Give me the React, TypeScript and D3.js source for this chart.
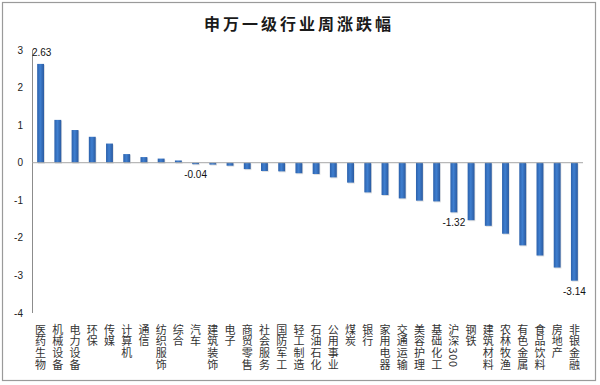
import React from 'react';
import * as d3 from 'd3';

// 申万一级行业周涨跌幅 (%)
const categories = [
  '医药生物', '机械设备', '电力设备', '环保', '传媒', '计算机', '通信', '纺织服饰',
  '综合', '汽车', '建筑装饰', '电子', '商贸零售', '社会服务', '国防军工', '轻工制造',
  '石油石化', '公用事业', '煤炭', '银行', '家用电器', '交通运输', '美容护理', '基础化工',
  '沪深300', '钢铁', '建筑材料', '农林牧渔', '有色金属', '食品饮料', '房地产', '非银金融',
];
const values = [
  2.63, 1.14, 0.87, 0.69, 0.51, 0.23, 0.15, 0.11,
  0.06, -0.04, -0.05, -0.08, -0.17, -0.22, -0.23, -0.28,
  -0.3, -0.39, -0.53, -0.79, -0.86, -0.95, -1.01, -1.03,
  -1.32, -1.53, -1.68, -1.89, -2.2, -2.47, -2.79, -3.14,
];
const labelled = ['医药生物', '汽车', '沪深300', '非银金融'];
const yTicks = [3, 2, 1, 0, -1, -2, -3, -4];

const W = 600;
const H = 385;
const cjk = '"Noto Sans CJK SC", "Noto Sans", sans-serif';
const latin = '"Liberation Sans", "DejaVu Sans", sans-serif';

export default function App() {
  const x = d3.scaleBand<string>().domain(categories).range([32, 583]).paddingInner(0.6).paddingOuter(0.3);
  const y = d3.scaleLinear().domain([-4, 3]).range([313, 50]);
  const bw = x.bandwidth();

  return (
    <svg width={W} height={H} style={{ display: 'block', position: 'absolute', left: 0, top: 0 }}>
      <defs>
        <linearGradient id="barGrad" x1="0" x2="1" y1="0" y2="0">
          <stop offset="0%" stopColor="#2c61ab" />
          <stop offset="45%" stopColor="#3f7fd0" />
          <stop offset="100%" stopColor="#2a5aa0" />
        </linearGradient>
      </defs>
      <rect x={0} y={0} width={W} height={H} fill="#fff" />
      <rect x={2.5} y={2.5} width={593} height={378} fill="#fff" stroke="#9a9a9a" strokeWidth={1.2} />

      <text x={299} y={30} textAnchor="middle" fontFamily={cjk} fontSize={16} fontWeight={600} letterSpacing={3} fill="#1a1a1a">
        申万一级行业周涨跌幅
      </text>

      {/* y axis */}
      <line x1={32.5} x2={32.5} y1={y(3)} y2={y(-4)} stroke="#8c8c8c" />
      {yTicks.map(t => (
        <text key={t} x={23} y={y(t) + 3.5} textAnchor="end" fontFamily={latin} fontSize={10} fill="#222">{t}</text>
      ))}

      {/* bars */}
      {categories.map((c, i) => {
        const v = values[i];
        const y0 = y(0);
        const y1 = y(v);
        return (
          <g key={c}>
            <rect x={(x(c) as number) + 0.8} y={Math.min(y0, y1) + 1} width={bw} height={Math.abs(y1 - y0)} fill="#000" opacity={0.12} />
            <rect x={x(c)} y={Math.min(y0, y1)} width={bw} height={Math.abs(y1 - y0)} fill="url(#barGrad)" />
          </g>
        );
      })}

      {/* zero line */}
      <line x1={32} x2={583} y1={y(0)} y2={y(0)} stroke="#a6a6a6" />

      {/* data labels */}
      {categories.map((c, i) => {
        if (!labelled.includes(c)) return null;
        const v = values[i];
        const cx = (x(c) as number) + bw / 2;
        const ty = v >= 0 ? 56 : y(v) + 14;
        const tx = i === 0 ? cx + 1 : cx;
        return (
          <text key={c} x={tx} y={ty} textAnchor="middle" fontFamily={latin} fontSize={10} fill="#111">
            {v.toFixed(2)}
          </text>
        );
      })}

      {/* category labels, written top to bottom */}
      {categories.map(c => {
        const cx = (x(c) as number) + bw / 2;
        return (
          <text
            key={c}
            x={cx}
            y={324}
            fontFamily={cjk}
            fontSize={11}
            letterSpacing={0.7}
            fill="#333"
            style={{ writingMode: 'vertical-rl' }}
          >
            {c}
          </text>
        );
      })}
    </svg>
  );
}
